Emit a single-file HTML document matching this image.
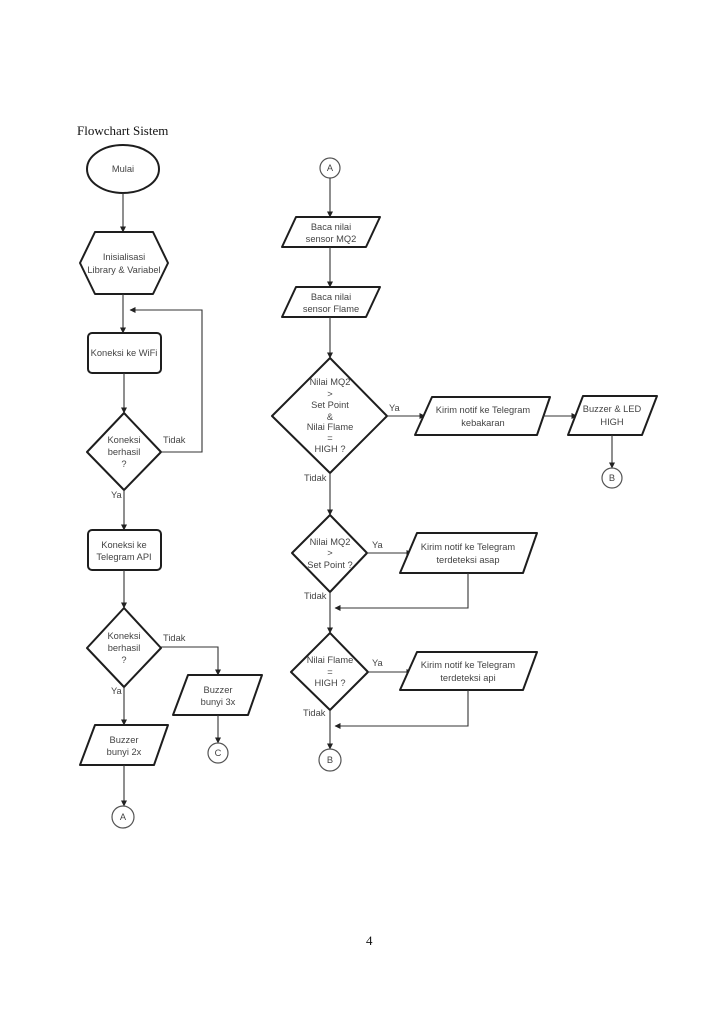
<!DOCTYPE html>
<html><head><meta charset="utf-8"><style>
html,body{margin:0;padding:0;background:#fff;}
svg{display:block;}
.s{fill:#fff;stroke:#1e1e1e;stroke-width:2;stroke-linejoin:round;}
.c{fill:#fff;stroke:#555;stroke-width:1.2;}
.l{fill:none;stroke:#333;stroke-width:1.1;}
text{font-family:"Liberation Sans",Arial,sans-serif;font-size:9.3px;fill:#444;}
.t{text-anchor:middle;}
.serif{font-family:"Liberation Serif",serif;font-size:13px;fill:#111;}
</style></head><body>
<svg width="724" height="1024" viewBox="0 0 724 1024" xmlns="http://www.w3.org/2000/svg">
<defs>
<marker id="a" markerWidth="6" markerHeight="6" refX="5.5" refY="3" orient="auto" markerUnits="userSpaceOnUse">
<path d="M0,0 L6,3 L0,6 Z" fill="#222"/>
</marker>
</defs>

<text class="serif" x="77" y="135">Flowchart Sistem</text>
<text class="serif" x="366" y="945">4</text>

<!-- LEFT COLUMN -->
<ellipse class="s" cx="123" cy="169" rx="36" ry="24"/>
<text class="t" x="123" y="172">Mulai</text>
<line class="l" x1="123" y1="193" x2="123" y2="232" marker-end="url(#a)"/>

<polygon class="s" points="95,232 153,232 168,263 153,294 95,294 80,263"/>
<text class="t" x="124" y="260">Inisialisasi</text>
<text class="t" x="124" y="273">Library &amp; Variabel</text>
<line class="l" x1="123" y1="294" x2="123" y2="333" marker-end="url(#a)"/>

<rect class="s" x="88" y="333" width="73" height="40" rx="4"/>
<text class="t" x="124" y="356">Koneksi ke WiFi</text>
<line class="l" x1="124" y1="373" x2="124" y2="413" marker-end="url(#a)"/>

<polygon class="s" points="124,413 161,452 124,490 87,452"/>
<text class="t" x="124" y="443">Koneksi</text>
<text class="t" x="124" y="455">berhasil</text>
<text class="t" x="124" y="467">?</text>
<text x="163" y="443">Tidak</text>
<polyline class="l" points="161,452 202,452 202,310 130,310" marker-end="url(#a)"/>

<text x="111" y="498">Ya</text>
<line class="l" x1="124" y1="490" x2="124" y2="530" marker-end="url(#a)"/>

<rect class="s" x="88" y="530" width="73" height="40" rx="4"/>
<text class="t" x="124" y="548">Koneksi ke</text>
<text class="t" x="124" y="560">Telegram API</text>
<line class="l" x1="124" y1="570" x2="124" y2="608" marker-end="url(#a)"/>

<polygon class="s" points="124,608 161,648 124,687 87,648"/>
<text class="t" x="124" y="639">Koneksi</text>
<text class="t" x="124" y="651">berhasil</text>
<text class="t" x="124" y="663">?</text>
<text x="163" y="641">Tidak</text>
<polyline class="l" points="161,647 218,647 218,675" marker-end="url(#a)"/>

<polygon class="s" points="188,675 262,675 248,715 173,715"/>
<text class="t" x="218" y="693">Buzzer</text>
<text class="t" x="218" y="705">bunyi 3x</text>
<line class="l" x1="218" y1="715" x2="218" y2="743" marker-end="url(#a)"/>
<circle class="c" cx="218" cy="753" r="10"/>
<text class="t" x="218" y="756">C</text>

<text x="111" y="694">Ya</text>
<line class="l" x1="124" y1="687" x2="124" y2="725" marker-end="url(#a)"/>

<polygon class="s" points="95,725 168,725 154,765 80,765"/>
<text class="t" x="124" y="743">Buzzer</text>
<text class="t" x="124" y="755">bunyi 2x</text>
<line class="l" x1="124" y1="765" x2="124" y2="806" marker-end="url(#a)"/>
<circle class="c" cx="123" cy="817" r="11"/>
<text class="t" x="123" y="820">A</text>

<!-- RIGHT COLUMN -->
<circle class="c" cx="330" cy="168" r="10"/>
<text class="t" x="330" y="171">A</text>
<line class="l" x1="330" y1="178" x2="330" y2="217" marker-end="url(#a)"/>

<polygon class="s" points="296,217 380,217 366,247 282,247"/>
<text class="t" x="331" y="230">Baca nilai</text>
<text class="t" x="331" y="242">sensor MQ2</text>
<line class="l" x1="330" y1="247" x2="330" y2="287" marker-end="url(#a)"/>

<polygon class="s" points="296,287 380,287 366,317 282,317"/>
<text class="t" x="331" y="300">Baca nilai</text>
<text class="t" x="331" y="312">sensor Flame</text>
<line class="l" x1="330" y1="317" x2="330" y2="358" marker-end="url(#a)"/>

<polygon class="s" points="330,358 387,416 330,473 272,416"/>
<text class="t" x="330" y="385">Nilai MQ2</text>
<text class="t" x="330" y="397">&gt;</text>
<text class="t" x="330" y="408">Set Point</text>
<text class="t" x="330" y="420">&amp;</text>
<text class="t" x="330" y="430">Nilai Flame</text>
<text class="t" x="330" y="441">=</text>
<text class="t" x="330" y="452">HIGH ?</text>
<text x="389" y="411">Ya</text>
<line class="l" x1="387" y1="416" x2="425" y2="416" marker-end="url(#a)"/>

<polygon class="s" points="432,397 550,397 537,435 415,435"/>
<text class="t" x="483" y="413">Kirim notif ke Telegram</text>
<text class="t" x="483" y="426">kebakaran</text>
<line class="l" x1="543" y1="416" x2="577" y2="416" marker-end="url(#a)"/>

<polygon class="s" points="583,396 657,396 642,435 568,435"/>
<text class="t" x="612" y="412">Buzzer &amp; LED</text>
<text class="t" x="612" y="425">HIGH</text>
<line class="l" x1="612" y1="435" x2="612" y2="468" marker-end="url(#a)"/>
<circle class="c" cx="612" cy="478" r="10"/>
<text class="t" x="612" y="481">B</text>

<text x="304" y="481">Tidak</text>
<line class="l" x1="330" y1="473" x2="330" y2="515" marker-end="url(#a)"/>

<polygon class="s" points="330,515 367,553 330,592 292,553"/>
<text class="t" x="330" y="545">Nilai MQ2</text>
<text class="t" x="330" y="556">&gt;</text>
<text class="t" x="330" y="568">Set Point ?</text>
<text x="372" y="548">Ya</text>
<line class="l" x1="367" y1="553" x2="412" y2="553" marker-end="url(#a)"/>

<polygon class="s" points="417,533 537,533 523,573 400,573"/>
<text class="t" x="468" y="550">Kirim notif ke Telegram</text>
<text class="t" x="468" y="563">terdeteksi asap</text>
<polyline class="l" points="468,573 468,608 335,608" marker-end="url(#a)"/>

<text x="304" y="599">Tidak</text>
<line class="l" x1="330" y1="592" x2="330" y2="633" marker-end="url(#a)"/>

<polygon class="s" points="330,633 368,672 330,710 291,672"/>
<text class="t" x="330" y="663">Nilai Flame</text>
<text class="t" x="330" y="675">=</text>
<text class="t" x="330" y="686">HIGH ?</text>
<text x="372" y="666">Ya</text>
<line class="l" x1="368" y1="672" x2="412" y2="672" marker-end="url(#a)"/>

<polygon class="s" points="417,652 537,652 523,690 400,690"/>
<text class="t" x="468" y="668">Kirim notif ke Telegram</text>
<text class="t" x="468" y="681">terdeteksi api</text>
<polyline class="l" points="468,690 468,726 335,726" marker-end="url(#a)"/>

<text x="303" y="716">Tidak</text>
<line class="l" x1="330" y1="710" x2="330" y2="749" marker-end="url(#a)"/>
<circle class="c" cx="330" cy="760" r="11"/>
<text class="t" x="330" y="763">B</text>
</svg>
</body></html>
